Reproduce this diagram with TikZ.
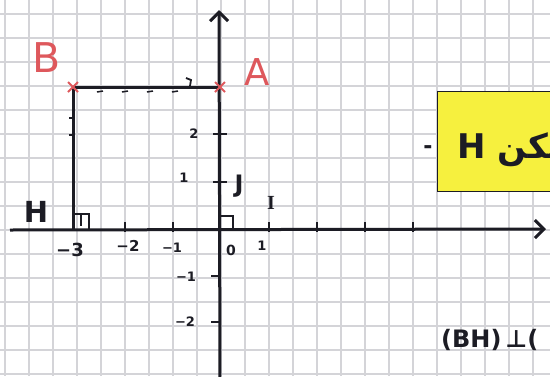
\documentclass[tikz,border=0pt]{standalone}
\usepackage{fontspec}
\setmainfont{DejaVu Sans}
\newfontfamily\arabicfont[Script=Arabic]{DejaVu Sans}
\newfontfamily\serifI{Liberation Serif}
\TeXXeTstate=1
\usetikzlibrary{arrows.meta}
\definecolor{gridc}{RGB}{212,212,216}
\definecolor{ink}{RGB}{28,28,36}
\definecolor{redink}{RGB}{222,88,92}
\definecolor{hl}{RGB}{246,240,62}
\begin{document}
\begin{tikzpicture}[x=1pt,y=-1pt,
  gridline/.style={draw=gridc,line width=1.2pt},
  axis/.style={draw=ink,line width=3pt,-{Straight Barb[length=9pt,width=18pt,line width=3pt]}},
  seg/.style={draw=ink,line width=3pt},
  tickm/.style={draw=ink,line width=1.8pt},
  lbl/.style={text=ink,inner sep=0pt,font=\bfseries\fontsize{13}{13}\selectfont},
  redlbl/.style={text=redink,inner sep=0pt},
  cross/.style={draw=redink,line width=2pt},
  rmark/.style={draw=ink,line width=2pt}
]
\useasboundingbox (0,0) rectangle (550,376);
\fill[white] (0,0) rectangle (550,376);
% graph paper
\foreach \k in {-9,...,14} \draw[gridline] ({221+24*\k},0) -- ({221+24*\k},376);
\foreach \k in {-9,...,6} \draw[gridline] (0,{230+24*\k}) -- (550,{230+24*\k});
% points
\coordinate (O) at (220,230);
\coordinate (xs) at (10,230);
\coordinate (xe) at (546,229);
\coordinate (ys) at (220,380);
\coordinate (ye) at (219,10);
\coordinate (B) at (73,87);
\coordinate (A) at (220,87);
\coordinate (H) at (73,230);
% axes
\draw[axis] (xs) -- (xe);
\draw[axis] (ys) -- (ye);
% segments
\draw[seg] (B) -- (A);
\draw[seg] (B) -- (H);
% ticks
\foreach \x in {125,173,269,317,365,413} \draw[tickm] (\x,222) -- (\x,232);
\foreach \y in {134,182} \draw[tickm] (213,\y) -- (227,\y);
\foreach \y in {276,322} \draw[tickm] (211,\y) -- (220,\y);
\foreach \x in {100,125,150,175} \draw[tickm,line width=1.5pt] (\x-3,92) -- (\x+3,91);
\draw[tickm] (186,78) -- (191,80) -- (190,86);
\foreach \y in {118,135} \draw[tickm,line width=1.5pt] (69,\y) -- (73,\y);
% red crosses
\draw[cross] ([shift={(-5,-5)}]B) -- ([shift={(5,5)}]B);
\draw[cross] ([shift={(-5,5)}]B) -- ([shift={(5,-5)}]B);
\draw[cross] ([shift={(-5,-5)}]A) -- ([shift={(5,5)}]A);
\draw[cross] ([shift={(-5,5)}]A) -- ([shift={(5,-5)}]A);
% right angle marks
\draw[rmark] ([shift={(0,-16)}]H) -- ([shift={(16,-16)}]H) -- ([shift={(16,0)}]H);
\draw[rmark] ([shift={(8,-16)}]H) -- ([shift={(8,-4)}]H);
\draw[rmark] ([shift={(0,-14)}]O) -- ([shift={(13,-14)}]O) -- ([shift={(13,0)}]O);
% point labels
\node[redlbl,font=\fontsize{41}{41}\selectfont] (lB) at (47,58) {B};
\node[redlbl,font=\fontsize{37}{37}\selectfont] (lA) at (257,72) {A};
\node[lbl,font=\bfseries\fontsize{29}{29}\selectfont] (lH) at (36,212) {H};
\node[lbl,font=\bfseries\fontsize{24}{24}\selectfont] (lJ) at (239,186) {J};
\node[lbl,font=\serifI\bfseries\fontsize{20}{20}\selectfont] (lI) at (271,203) {I};
% axis numbers
\node[lbl,font=\bfseries\fontsize{18}{18}\selectfont] (xm3) at (70,250) {−3};
\node[lbl,font=\bfseries\fontsize{15}{15}\selectfont] (xm2) at (128,246) {−2};
\node[lbl] (xm1) at (172,248) {−1};
\node[lbl,font=\bfseries\fontsize{14}{14}\selectfont] (x0) at (231,250) {0};
\node[lbl] (x1) at (262,246) {1};
\node[lbl] (y2) at (194,134) {2};
\node[lbl] (y1) at (184,178) {1};
\node[lbl] (ym1) at (186,277) {−1};
\node[lbl] (ym2) at (185,322) {−2};
% yellow note
\filldraw[fill=hl,draw=ink,line width=0.8pt] (437,91) rectangle (570,191);
\node[lbl,font=\bfseries\fontsize{22}{22}\selectfont] (dash) at (428,150) {-};
\node[anchor=west,inner sep=0pt,text=ink,font=\arabicfont\bfseries\fontsize{34}{34}\selectfont] (ar) at (457,150) {\beginR لتكن H\endR};
% bottom text
\node[anchor=west,inner sep=0pt,text=ink,font=\bfseries\fontsize{24}{24}\selectfont] (perp) at (441,340) {(BH)\,⊥(};
\end{tikzpicture}
\end{document}
